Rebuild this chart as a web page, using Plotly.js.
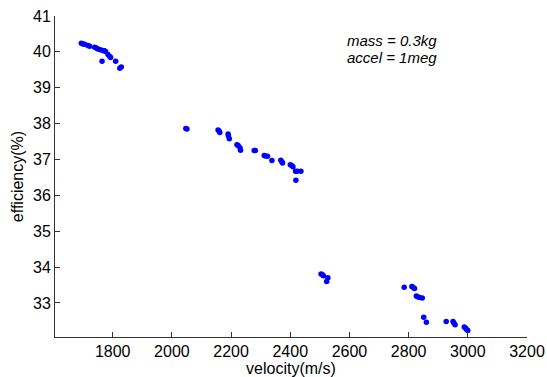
<!DOCTYPE html>
<html>
<head>
<meta charset="utf-8">
<script src="https://cdn.plot.ly/plotly-3.0.1.min.js"></script>
<style>html,body{margin:0;padding:0;background:#fff;}#chart{width:547px;height:377px;}</style>
</head>
<body>
<div id="chart"></div>
<script>
const velocity = [
  1694, 1699, 1705, 1716, 1722, 1739, 1745, 1750, 1758, 1767, 1772, 1776, 1784, 1790, 1793, 1764, 1810, 1829, 1824,
  2047, 2051, 2156, 2159, 2162, 2190, 2191, 2194, 2220, 2224, 2230, 2232, 2278, 2282, 2312, 2316, 2323, 2338,
  2368, 2372, 2374, 2400, 2405, 2409, 2418, 2424, 2436, 2419,
  2504, 2508, 2512, 2527, 2523, 2785, 2811, 2815, 2820, 2826, 2830, 2837, 2846, 2851, 2860,
  2927, 2950, 2953, 2957, 2988, 2992, 2996, 3000
];
const efficiency = [
  40.24, 40.22, 40.21, 40.18, 40.16, 40.13, 40.11, 40.08, 40.06, 40.04, 40.03, 40.01, 39.93, 39.87, 39.84, 39.74, 39.74, 39.58, 39.54,
  37.86, 37.85, 37.82, 37.80, 37.75, 37.71, 37.66, 37.58, 37.41, 37.39, 37.33, 37.26, 37.25, 37.25, 37.11, 37.10, 37.09, 36.97,
  36.98, 36.93, 36.90, 36.85, 36.83, 36.80, 36.67, 36.67, 36.67, 36.42,
  33.81, 33.79, 33.76, 33.70, 33.60, 33.44, 33.46, 33.44, 33.40, 33.19, 33.17, 33.15, 33.14, 32.60, 32.46,
  32.48, 32.48, 32.44, 32.39, 32.33, 32.30, 32.26, 32.23
];
const xTicks = [1800, 2000, 2200, 2400, 2600, 2800, 3000, 3200];
const yTicks = [33, 34, 35, 36, 37, 38, 39, 40, 41];
const noteLines = ["mass = 0.3kg", "accel = 1meg"];

const font = {family: "Liberation Sans, Arial, sans-serif", size: 16, color: "#000"};
const noteFont = {family: "Liberation Sans, Arial, sans-serif", size: 15, color: "#000"};

const trace = {
  x: velocity, y: efficiency, type: "scatter", mode: "markers",
  marker: {color: "#0000ff", size: 5.5},
  hoverinfo: "skip", showlegend: false, cliponaxis: false
};

const axisCommon = {
  showgrid: false, zeroline: false, showline: true, linecolor: "#333", linewidth: 1,
  ticks: "inside", ticklen: 5, tickcolor: "#333", tickwidth: 1, mirror: false,
  tickfont: font
};

const layout = {
  width: 547, height: 377,
  margin: {l: 55, r: 20, t: 16, b: 40},
  paper_bgcolor: "#fff", plot_bgcolor: "#fff",
  font: font,
  xaxis: Object.assign({}, axisCommon, {
    range: [1605, 3200], tickvals: xTicks, ticktext: xTicks.map(String),
    title: {text: "velocity(m/s)", font: font, standoff: 1}
  }),
  yaxis: Object.assign({}, axisCommon, {
    range: [32.05, 41], tickvals: yTicks, ticktext: yTicks.map(String),
    title: {text: "efficiency(%)", font: font, standoff: 5}
  }),
  annotations: [
    {x: 2585, y: 40.33, xref: "x", yref: "y", text: "<i>" + noteLines[0] + "</i>", showarrow: false, xanchor: "left", yanchor: "middle", font: noteFont},
    {x: 2585, y: 39.83, xref: "x", yref: "y", text: "<i>" + noteLines[1] + "</i>", showarrow: false, xanchor: "left", yanchor: "middle", font: noteFont}
  ]
};

Plotly.newPlot("chart", [trace], layout, {displayModeBar: false, staticPlot: true});
</script>
</body>
</html>
